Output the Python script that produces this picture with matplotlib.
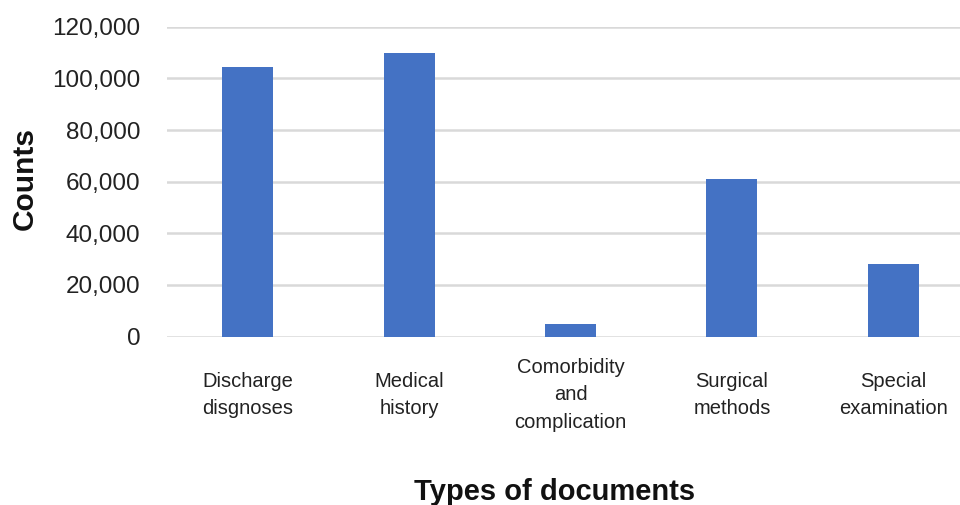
import matplotlib
matplotlib.use("Agg")
import matplotlib.pyplot as plt
from matplotlib.ticker import FuncFormatter

categories = ["Discharge\ndisgnoses", "Medical\nhistory", "Comorbidity\nand\ncomplication",
              "Surgical\nmethods", "Special\nexamination"]
counts = [104500, 110000, 5000, 61000, 28200]
yticks = [0, 20000, 40000, 60000, 80000, 100000, 120000]

plt.rcParams['font.family'] = ['Liberation Sans', 'DejaVu Sans']

fig = plt.figure(figsize=(9.6, 5.05), dpi=100)
ax = fig.add_axes([167/960, 168.4/505, 807/960, 309.9/505])

x = list(range(len(categories)))
ax.bar(x, counts, width=0.315, color="#4472C4", zorder=3)
ax.set_xlim(-0.5, len(categories) - 0.5)
ax.set_ylim(0, 120000)
ax.set_yticks(yticks)
ax.yaxis.set_major_formatter(FuncFormatter(lambda v, p: f"{int(v):,}"))
ax.grid(axis='y', color="#D9D9D9", linewidth=1.8, zorder=0)
ax.set_axisbelow(True)
for s in ax.spines.values():
    s.set_visible(False)

ax.set_xticks(x)
ax.set_xticklabels(categories, fontsize=14.5, color="#222222", linespacing=1.55)
for lbl in ax.get_xticklabels():
    lbl.set_verticalalignment('center')
ax.tick_params(axis='x', length=0, pad=42)
ax.tick_params(axis='y', length=0, pad=19, labelsize=17.5, labelcolor="#222222")

fig.text(25/960, 1 - 179/505, "Counts", rotation=90, ha='center', va='center',
         fontsize=21.5, fontweight='bold', color="#111111")
fig.text(555/960, 5/505, "Types of documents", ha='center', va='baseline',
         fontsize=21, fontweight='bold', color="#111111")

fig.savefig("out.png", dpi=100)
